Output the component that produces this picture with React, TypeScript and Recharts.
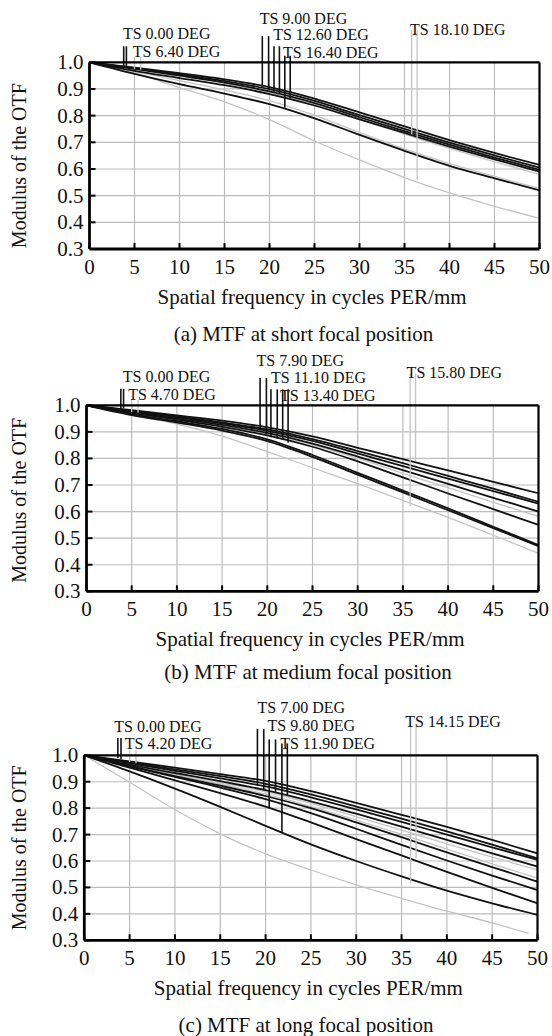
import React from 'react';
import { LineChart, Line, XAxis, YAxis, CartesianGrid, ReferenceLine, ReferenceDot } from 'recharts';

const FONT = "'Liberation Serif', 'Times New Roman', Times, serif";

// ---------- shared axes ----------
const freq = [0, 5, 10, 15, 20, 25, 30, 35, 40, 45, 50];
const xTicks = [0, 5, 10, 15, 20, 25, 30, 35, 40, 45, 50];
const yTicks = [0.3, 0.4, 0.5, 0.6, 0.7, 0.8, 0.9, 1.0];
const xTitle = 'Spatial frequency in cycles PER/mm';
const yTitle = 'Modulus of the OTF';

// ---------- (a) short focal position ----------
const aCaption = '(a) MTF at short focal position';
const aDark1 = [1.0, 0.98, 0.959, 0.936, 0.907, 0.864, 0.812, 0.76, 0.708, 0.66, 0.615];
const aDark2 = [1.0, 0.978, 0.955, 0.93, 0.899, 0.855, 0.802, 0.75, 0.699, 0.651, 0.605];
const aDark3 = [1.0, 0.975, 0.95, 0.924, 0.891, 0.847, 0.794, 0.742, 0.691, 0.643, 0.597];
const aDark4 = [1.0, 0.968, 0.941, 0.914, 0.881, 0.838, 0.786, 0.735, 0.684, 0.636, 0.59];
const aDark5 = [1.0, 0.957, 0.918, 0.883, 0.843, 0.79, 0.728, 0.668, 0.612, 0.565, 0.52];
const aLight1 = [1.0, 0.975, 0.95, 0.923, 0.886, 0.84, 0.786, 0.731, 0.677, 0.627, 0.58];
const aLight2 = [1.0, 0.965, 0.931, 0.896, 0.856, 0.801, 0.737, 0.675, 0.62, 0.572, 0.527];
const aLight3 = [1.0, 0.96, 0.905, 0.852, 0.785, 0.705, 0.634, 0.568, 0.51, 0.46, 0.415];
const aLabels = ['TS 0.00 DEG', 'TS 6.40 DEG', 'TS 9.00 DEG', 'TS 12.60 DEG', 'TS 16.40 DEG', 'TS 18.10 DEG'];
const aLabelF = [3.6, 4.7, 18.8, 20.3, 21.4, 35.5];
const aLabelV = [1.11, 1.042, 1.166, 1.104, 1.039, 1.122];
const aMarkF = [3.8, 4.1, 19.2, 19.9, 20.5, 21.1, 21.7, 22.3];
const aMarkTop = [1.06, 1.06, 1.098, 1.098, 1.06, 1.06, 1.025, 1.025];
const aMarkBot = [0.985, 0.983, 0.905, 0.898, 0.89, 0.885, 0.83, 0.865];
const aGrayMarkF = [5.0, 5.7, 35.8, 36.4];
const aGrayMarkTop = [1.02, 1.02, 1.12, 1.12];
const aGrayMarkBot = [0.975, 0.972, 0.73, 0.56];

// ---------- (b) medium focal position ----------
const bCaption = '(b) MTF at medium focal position';
const bDark1 = [1.0, 0.982, 0.962, 0.942, 0.917, 0.883, 0.84, 0.797, 0.755, 0.712, 0.669];
const bDark2 = [1.0, 0.98, 0.958, 0.936, 0.909, 0.873, 0.828, 0.782, 0.734, 0.686, 0.637];
const bDark3 = [1.0, 0.978, 0.955, 0.932, 0.904, 0.866, 0.819, 0.771, 0.724, 0.677, 0.63];
const bDark4 = [1.0, 0.975, 0.95, 0.926, 0.896, 0.856, 0.807, 0.756, 0.704, 0.652, 0.6];
const bDark5 = [1.0, 0.972, 0.946, 0.919, 0.887, 0.844, 0.789, 0.729, 0.668, 0.609, 0.55];
const bDark6 = [1.0, 0.967, 0.94, 0.911, 0.872, 0.813, 0.746, 0.679, 0.612, 0.543, 0.474];
const bDark7 = [1.0, 0.963, 0.935, 0.905, 0.865, 0.806, 0.739, 0.672, 0.605, 0.538, 0.47];
const bLight1 = [1.0, 0.974, 0.948, 0.922, 0.892, 0.851, 0.8, 0.744, 0.69, 0.635, 0.582];
const bLight2 = [1.0, 0.963, 0.929, 0.884, 0.826, 0.765, 0.705, 0.642, 0.578, 0.511, 0.443];
const bLabels = ['TS 0.00 DEG', 'TS 4.70 DEG', 'TS 7.90 DEG', 'TS 11.10 DEG', 'TS 13.40 DEG', 'TS 15.80 DEG'];
const bLabelF = [3.9, 4.5, 18.7, 20.3, 21.3, 35.3];
const bLabelV = [1.108, 1.041, 1.171, 1.105, 1.039, 1.126];
const bMarkF = [3.8, 4.1, 19.2, 19.9, 20.4, 21.1, 21.7, 22.3];
const bMarkTop = [1.062, 1.062, 1.103, 1.103, 1.06, 1.06, 1.06, 1.06];
const bMarkBot = [0.99, 0.99, 0.905, 0.89, 0.88, 0.875, 0.87, 0.86];
const bGrayMarkF = [5.0, 5.7, 35.8, 36.4];
const bGrayMarkTop = [1.02, 1.02, 1.12, 1.12];
const bGrayMarkBot = [0.975, 0.972, 0.62, 0.79];

// ---------- (c) long focal position ----------
const cCaption = '(c) MTF at long focal position';
const cDark1 = [1.0, 0.977, 0.953, 0.929, 0.903, 0.864, 0.82, 0.775, 0.729, 0.68, 0.629];
const cDark2 = [1.0, 0.973, 0.947, 0.921, 0.892, 0.852, 0.806, 0.76, 0.712, 0.662, 0.61];
const cDark3 = [1.0, 0.97, 0.941, 0.913, 0.882, 0.841, 0.795, 0.748, 0.7, 0.652, 0.604];
const cDark4 = [1.0, 0.965, 0.933, 0.902, 0.868, 0.826, 0.779, 0.73, 0.68, 0.629, 0.579];
const cDark5 = [1.0, 0.959, 0.921, 0.885, 0.846, 0.8, 0.746, 0.69, 0.633, 0.577, 0.522];
const cDark6 = [1.0, 0.958, 0.918, 0.878, 0.834, 0.781, 0.722, 0.661, 0.602, 0.545, 0.49];
const cDark7 = [1.0, 0.953, 0.905, 0.857, 0.806, 0.746, 0.683, 0.621, 0.559, 0.498, 0.44];
const cDark8 = [1.0, 0.939, 0.874, 0.805, 0.733, 0.663, 0.6, 0.542, 0.488, 0.44, 0.396];
const cLight1 = [1.0, 0.962, 0.928, 0.896, 0.862, 0.818, 0.768, 0.717, 0.665, 0.615, 0.566];
const cLight2 = [1.0, 0.96, 0.925, 0.891, 0.853, 0.807, 0.755, 0.701, 0.645, 0.589, 0.535];
const cLight3Freq = [0, 5, 10, 15, 20, 25, 30, 35, 40, 45, 49];
const cLight3 = [1.0, 0.898, 0.795, 0.703, 0.627, 0.566, 0.51, 0.459, 0.41, 0.366, 0.326];
const cLabels = ['TS 0.00 DEG', 'TS 4.20 DEG', 'TS 7.00 DEG', 'TS 9.80 DEG', 'TS 11.90 DEG', 'TS 14.15 DEG'];
const cLabelF = [3.2, 4.35, 19.0, 20.1, 21.5, 35.3];
const cLabelV = [1.108, 1.045, 1.18, 1.114, 1.045, 1.127];
const cMarkF = [3.7, 4.05, 19.1, 19.8, 20.4, 21.1, 21.8, 22.4];
const cMarkTop = [1.065, 1.065, 1.1, 1.1, 1.06, 1.06, 1.045, 1.045];
const cMarkBot = [0.99, 0.985, 0.885, 0.87, 0.8, 0.86, 0.706, 0.85];
const cGrayMarkF = [5.0, 5.7, 36.0, 36.6];
const cGrayMarkTop = [1.02, 1.02, 1.12, 1.12];
const cGrayMarkBot = [0.975, 0.97, 0.517, 0.61];

// ---------- helpers ----------
const toPts = (fs: number[], vs: number[]) => fs.map((f, i) => ({ f, v: vs[i] }));

const DARK = '#121212';
const LIGHT = '#c4c4c4';
const GRID = '#bdbdbd';

// axis box sizes (the plot area is placed by margin + these)
const BOTTOM_H = 30;
const TOP_H = 10;
const LEFT_W = 60;
const RIGHT_W = 10;

const BottomTick = (p: any) => {
  const { x, y, payload } = p;
  return (
    <g>
      <line x1={x} x2={x} y1={y} y2={y - 6} stroke="#000" strokeWidth={2} />
      <text x={x} y={y + 24.5} textAnchor="middle" fontSize={21} fontFamily={FONT} fill="#111">
        {payload.value}
      </text>
    </g>
  );
};
const TopTick = (p: any) => {
  const { x, y } = p;
  return <line x1={x} x2={x} y1={y} y2={y + 6} stroke="#000" strokeWidth={2} />;
};
const LeftTick = (p: any) => {
  const { x, y, payload } = p;
  return (
    <g>
      <line x1={x} x2={x + 6} y1={y} y2={y} stroke="#000" strokeWidth={2} />
      <text x={x - 6} y={y + 7} textAnchor="end" fontSize={21} fontFamily={FONT} fill="#111">
        {Number(payload.value).toFixed(1)}
      </text>
    </g>
  );
};
const RightTick = (p: any) => {
  const { x, y } = p;
  return <line x1={x} x2={x - 6} y1={y} y2={y} stroke="#000" strokeWidth={2} />;
};

type PanelProps = {
  height: number;
  plot: { top: number; right: number; bottom: number; left: number };
  dark: number[][];
  light: { fs: number[]; vs: number[] }[];
  labels: string[];
  labelF: number[];
  labelV: number[];
  markF: number[];
  markTop: number[];
  markBot: number[];
  grayMarkF: number[];
  grayMarkTop: number[];
  grayMarkBot: number[];
  yTitleDy: number;
};

const Panel = (p: PanelProps) => {
  const margin = {
    top: p.plot.top - TOP_H,
    bottom: p.plot.bottom - BOTTOM_H,
    left: p.plot.left - LEFT_W,
    right: p.plot.right - RIGHT_W,
  };
  const xLabel = (lp: any) => {
    const vb = lp.viewBox || {};
    const cx = vb.x + vb.width / 2 - 2.5;
    return (
      <text x={cx} y={vb.y + 55} textAnchor="middle" fontSize={21} fontFamily={FONT} fill="#111">
        {xTitle}
      </text>
    );
  };
  const yLabel = (lp: any) => {
    const vb = lp.viewBox || {};
    const cy = vb.y + vb.height / 2 + p.yTitleDy;
    return (
      <text
        x={26.5}
        y={cy}
        transform={`rotate(-90, 26.5, ${cy})`}
        textAnchor="middle"
        fontSize={20}
        fontFamily={FONT}
        fill="#111"
      >
        {yTitle}
      </text>
    );
  };
  return (
    <LineChart width={552} height={p.height} margin={margin}>
      <CartesianGrid xAxisId="b" yAxisId="l" stroke={GRID} strokeWidth={1.2} />
      <XAxis
        xAxisId="b"
        dataKey="f"
        type="number"
        domain={[0, 50]}
        ticks={xTicks}
        interval={0}
        height={BOTTOM_H}
        tickSize={0}
        tickMargin={0}
        tickLine={false}
        tick={BottomTick}
        axisLine={{ stroke: '#000', strokeWidth: 2.8 }}
        label={xLabel}
      />
      <XAxis
        xAxisId="t"
        orientation="top"
        type="number"
        domain={[0, 50]}
        ticks={xTicks}
        interval={0}
        height={TOP_H}
        tickSize={0}
        tickMargin={0}
        tickLine={false}
        tick={TopTick}
        axisLine={{ stroke: '#000', strokeWidth: 2.2 }}
      />
      <YAxis
        yAxisId="l"
        type="number"
        domain={[0.3, 1.0]}
        ticks={yTicks}
        interval={0}
        width={LEFT_W}
        tickSize={0}
        tickMargin={0}
        tickLine={false}
        tick={LeftTick}
        axisLine={{ stroke: '#000', strokeWidth: 2.8 }}
        label={yLabel}
      />
      <YAxis
        yAxisId="r"
        orientation="right"
        type="number"
        domain={[0.3, 1.0]}
        ticks={yTicks}
        interval={0}
        width={RIGHT_W}
        tickSize={0}
        tickMargin={0}
        tickLine={false}
        tick={RightTick}
        axisLine={{ stroke: '#000', strokeWidth: 2.2 }}
      />
      {p.light.map((s, i) => (
        <Line
          key={'l' + i}
          xAxisId="b"
          yAxisId="l"
          data={toPts(s.fs, s.vs)}
          dataKey="v"
          type="monotone"
          stroke={LIGHT}
          strokeWidth={1.3}
          dot={false}
          isAnimationActive={false}
        />
      ))}
      {p.dark.map((vs, i) => (
        <Line
          key={'d' + i}
          xAxisId="b"
          yAxisId="l"
          data={toPts(freq, vs)}
          dataKey="v"
          type="monotone"
          stroke={DARK}
          strokeWidth={1.8}
          dot={false}
          isAnimationActive={false}
        />
      ))}
      {p.grayMarkF.map((f, i) => (
        <ReferenceLine
          key={'gm' + i}
          xAxisId="b"
          yAxisId="l"
          segment={[{ x: f, y: p.grayMarkTop[i] }, { x: f, y: p.grayMarkBot[i] }]}
          stroke={LIGHT}
          strokeWidth={1.3}
          ifOverflow="visible"
        />
      ))}
      {p.markF.map((f, i) => (
        <ReferenceLine
          key={'m' + i}
          xAxisId="b"
          yAxisId="l"
          segment={[{ x: f, y: p.markTop[i] }, { x: f, y: p.markBot[i] }]}
          stroke={DARK}
          strokeWidth={1.6}
          ifOverflow="visible"
        />
      ))}
      {p.labels.map((t, i) => (
        <ReferenceDot
          key={'t' + i}
          xAxisId="b"
          yAxisId="l"
          x={p.labelF[i]}
          y={p.labelV[i]}
          r={1}
          fill="none"
          stroke="none"
          ifOverflow="visible"
          label={{ value: t, position: 'right', offset: 0, fontSize: 16, fontFamily: FONT, fill: '#111' }}
        />
      ))}
    </LineChart>
  );
};

const captionStyle = (top: number, center: number): React.CSSProperties => ({
  position: 'absolute',
  top,
  left: center - 220,
  width: 440,
  textAlign: 'center',
  fontFamily: FONT,
  fontSize: 21,
  lineHeight: '21px',
  color: '#111',
  whiteSpace: 'nowrap',
});

export default function App() {
  return (
    <div style={{ position: 'absolute', left: 0, top: 0, width: 552, height: 1036, background: '#fff', overflow: 'hidden' }}>
      <div style={{ position: 'absolute', left: 0, top: 0 }}>
        <Panel
          height={345}
          plot={{ top: 62.3, right: 12.5, bottom: 96, left: 89.5 }}
          dark={[aDark1, aDark2, aDark3, aDark4, aDark5]}
          light={[
            { fs: freq, vs: aLight1 },
            { fs: freq, vs: aLight2 },
            { fs: freq, vs: aLight3 },
          ]}
          labels={aLabels}
          labelF={aLabelF}
          labelV={aLabelV}
          markF={aMarkF}
          markTop={aMarkTop}
          markBot={aMarkBot}
          grayMarkF={aGrayMarkF}
          grayMarkTop={aGrayMarkTop}
          grayMarkBot={aGrayMarkBot}
          yTitleDy={10}
        />
      </div>
      <div style={captionStyle(324, 303.5)}>{aCaption}</div>
      <div style={{ position: 'absolute', left: 0, top: 345 }}>
        <Panel
          height={345}
          plot={{ top: 60.3, right: 13.5, bottom: 98.7, left: 86.5 }}
          dark={[bDark1, bDark2, bDark3, bDark4, bDark5, bDark6, bDark7]}
          light={[
            { fs: freq, vs: bLight1 },
            { fs: freq, vs: bLight2 },
          ]}
          labels={bLabels}
          labelF={bLabelF}
          labelV={bLabelV}
          markF={bMarkF}
          markTop={bMarkTop}
          markBot={bMarkBot}
          grayMarkF={bGrayMarkF}
          grayMarkTop={bGrayMarkTop}
          grayMarkBot={bGrayMarkBot}
          yTitleDy={2}
        />
      </div>
      <div style={captionStyle(662.4, 308)}>{bCaption}</div>
      <div style={{ position: 'absolute', left: 0, top: 690 }}>
        <Panel
          height={346}
          plot={{ top: 65.3, right: 14.5, bottom: 95.7, left: 84.3 }}
          dark={[cDark1, cDark2, cDark3, cDark4, cDark5, cDark6, cDark7, cDark8]}
          light={[
            { fs: freq, vs: cLight1 },
            { fs: freq, vs: cLight2 },
            { fs: cLight3Freq, vs: cLight3 },
          ]}
          labels={cLabels}
          labelF={cLabelF}
          labelV={cLabelV}
          markF={cMarkF}
          markTop={cMarkTop}
          markBot={cMarkBot}
          grayMarkF={cGrayMarkF}
          grayMarkTop={cGrayMarkTop}
          grayMarkBot={cGrayMarkBot}
          yTitleDy={0}
        />
      </div>
      <div style={captionStyle(1015.4, 306)}>{cCaption}</div>
    </div>
  );
}
